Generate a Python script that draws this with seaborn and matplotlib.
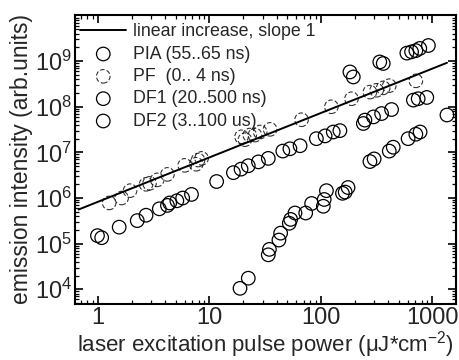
import matplotlib
matplotlib.use("Agg")
import matplotlib.pyplot as plt
import matplotlib.ticker as mticker
import seaborn as sns
import pandas as pd

# linear reference line (slope 1)
line_x = [0.67, 1350]
line_y = [5.6e5, 9.2e8]

# PIA (55..65 ns)
pia_x = [182, 195, 337, 362, 590, 650, 710, 770, 920]
pia_y = [5.8e8, 4.5e8, 9.6e8, 8.9e8, 1.5e9, 1.6e9, 1.7e9, 1.9e9, 2.2e9]

# PF (0..4 ns)
pf_x = [1.26, 1.63, 1.94, 2.7, 2.9, 3.4, 4.2, 6.0, 7.6, 7.9, 8.5,
        19.4, 20.8, 23, 25.6, 28.5, 35, 67, 124, 188, 275, 316, 362, 410, 710]
pf_y = [7.8e5, 1.0e6, 1.45e6, 2.0e6, 2.1e6, 2.5e6, 3.3e6, 5.2e6, 5.5e6, 6.8e6, 7.4e6,
        2.2e7, 1.9e7, 2.4e7, 2.4e7, 2.8e7, 3.2e7, 5.2e7, 1.0e8, 1.5e8, 2.1e8, 2.3e8, 2.6e8, 2.9e8, 3.7e8]

# DF1 (20..500 ns)
df1_x = [0.99, 1.08, 1.55, 2.25, 2.7, 3.55, 4.2, 4.4, 5.1, 5.75, 6.9,
         11.6, 16.4, 19.2, 22.3, 27.5, 33.7, 45.5, 52.7, 65, 91, 109, 129,
         148, 240, 248, 296, 350, 430, 675, 745, 890]
df1_y = [1.5e5, 1.35e5, 2.3e5, 3.2e5, 4.2e5, 5.8e5, 6.9e5, 7.8e5, 8.7e5, 1.0e6, 1.2e6,
         2.3e6, 3.6e6, 4.3e6, 5.1e6, 6.2e6, 7.4e6, 1.07e7, 1.2e7, 1.4e7, 2.0e7, 2.3e7, 2.8e7,
         3.0e7, 4.3e7, 5.1e7, 6.0e7, 7.1e7, 8.7e7, 1.4e8, 1.5e8, 1.6e8]

# DF2 (3..100 us)
df2_x = [18.8, 22.3, 33.7, 34.5, 42, 43.5, 52, 53.5, 58.5, 73, 82.5, 105, 107, 112,
         156, 165, 175, 275, 300, 410, 445, 605, 710, 775, 1350]
df2_y = [1.05e4, 1.75e4, 5.7e4, 7.5e4, 1.2e5, 1.7e5, 2.8e5, 3.4e5, 4.7e5, 4.7e5, 7.6e5, 6.6e5, 9.3e5, 1.45e6,
         1.27e6, 1.35e6, 1.7e6, 6.3e6, 7.2e6, 1.07e7, 1.3e7, 2.0e7, 2.5e7, 2.8e7, 6.6e7]

sns.set_theme(style="ticks")
plt.rcParams['font.family'] = ['Liberation Sans', 'DejaVu Sans']
plt.rcParams['mathtext.default'] = 'regular'

fig = plt.figure(figsize=(4.59, 3.6), dpi=100)
ax = fig.add_axes([0.163, 0.156, 0.83, 0.802])

sns.lineplot(x=line_x, y=line_y, ax=ax, color='black', linewidth=1.4,
             label='linear increase, slope 1')

ms = 95
common = dict(ax=ax, s=ms, facecolors='none', edgecolor='black', zorder=3)
sns.scatterplot(x=pia_x, y=pia_y, linewidth=0.9, label='PIA (55..65 ns)', **common)
sns.scatterplot(x=pf_x, y=pf_y, linewidth=0.8, linestyle=(0, (4, 2)), alpha=0.8,
                label='PF  (0.. 4 ns)', **common)
sns.scatterplot(x=df1_x, y=df1_y, linewidth=0.9, label='DF1 (20..500 ns)', **common)
sns.scatterplot(x=df2_x, y=df2_y, linewidth=0.9, label='DF2 (3..100 us)', **common)

ax.set_xscale('log')
ax.set_yscale('log')
ax.set_xlim(0.62, 1620)
ax.set_ylim(4.8e3, 1.02e10)
ax.set_xticks([1, 10, 100, 1000])
ax.xaxis.set_major_formatter(mticker.FuncFormatter(lambda v, p: f"{v:g}"))
ax.set_yticks([1e4, 1e5, 1e6, 1e7, 1e8, 1e9])
ax.xaxis.set_minor_locator(mticker.LogLocator(base=10, subs=range(2, 10), numticks=20))
ax.yaxis.set_minor_locator(mticker.LogLocator(base=10, subs=range(2, 10), numticks=20))
ax.yaxis.set_minor_formatter(mticker.NullFormatter())
ax.xaxis.set_minor_formatter(mticker.NullFormatter())

ax.tick_params(which='both', direction='in', top=True, right=True, color='black')
ax.tick_params(which='major', length=6, width=1.2, labelsize=17, pad=2)
ax.tick_params(which='minor', length=3, width=0.9)
for sp in ax.spines.values():
    sp.set_linewidth(1.5)
    sp.set_color('black')

ax.set_xlabel(r'laser excitation pulse power ($\mu$J*cm$^{-2}$)', fontsize=16, labelpad=0)
ax.set_ylabel('emission intensity (arb.units)', fontsize=16.5, labelpad=1)

leg = ax.legend(loc='upper left', frameon=False, fontsize=12.8, handlelength=2.6,
                labelspacing=0.3, borderaxespad=0.1, handletextpad=0.4,
                borderpad=0.2, bbox_to_anchor=(0.0, 0.99))

fig.savefig('out.png', dpi=100)
